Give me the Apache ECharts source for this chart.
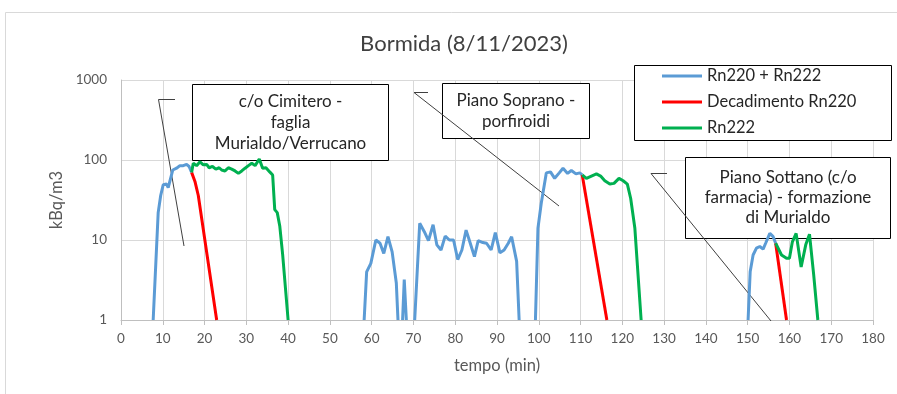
<!DOCTYPE html>
<html>
<head>
<meta charset="utf-8">
<script src="https://cdn.jsdelivr.net/npm/echarts@6/dist/echarts.min.js"></script>
<style>
  html, body { margin: 0; padding: 0; background: #fff; }
  #chart { width: 897px; height: 394px; }
</style>
</head>
<body>
<div id="chart"></div>
<script>
// Measurements: [time (min), activity (kBq/m3)]
// Rn220 + Rn222 (total), one array per continuous stretch
const totalA = [[7.7,1],[8.9,22],[9.5,36],[10.1,49],[10.9,50],[11.3,45],[12.4,75],[13.3,79],[14.1,85],[14.9,85],[15.7,88],[16.3,83],[16.9,70]];
const totalB = [[58.2,1],[58.8,4.0],[59.8,5.1],[61.0,10],[62.0,9.1],[62.9,6.8],[63.9,11],[64.9,7.1],[65.9,2.9],[66.3,1]];
const totalC = [[67.4,1],[67.8,3.2],[68.3,1]];
const totalD = [[70.3,1],[71.5,16.2],[72.6,12.7],[73.6,9.8],[74.7,15.5],[75.6,8.7],[76.6,7.5],[77.6,11.2],[78.6,10],[79.6,10],[80.6,5.7],[81.6,7.5],[82.6,13.3],[83.6,9.1],[84.6,6.2],[85.5,9.8],[86.6,9.3],[87.5,9.1],[88.6,7.5],[89.6,12.4],[90.7,6.9],[91.7,7.5],[92.7,9.1],[93.5,11],[94.7,5.4],[95.3,1]];
const totalE = [[99.2,1],[99.8,14],[100.6,29],[101.8,69],[102.8,71],[103.8,59],[104.9,69],[105.8,79],[106.9,68],[107.8,74],[108.9,67],[109.8,69],[110.4,65]];
const totalF = [[150.1,1],[150.6,4.0],[151.3,6.5],[152.1,7.9],[152.9,8.3],[153.7,7.7],[154.3,9.1],[155.3,12.1],[156.1,11],[156.7,9.1]];

// Decadimento Rn220 (decay of thoron after each stop)
const decayA = [[16.9,70],[17.7,54],[18.5,36],[22.9,1]];
const decayB = [[110.4,65],[116.3,1]];
const decayC = [[156.7,9.1],[159.3,1]];

// Rn222
const radonA = [[16.9,70],[17.3,91],[18.1,85],[18.9,95],[19.7,87],[20.5,88],[21.1,80],[21.9,83],[22.7,77],[23.5,80],[24.1,75],[24.9,73],[25.7,80],[26.5,77],[27.3,73],[28.1,68],[28.9,73],[29.7,79],[30.5,85],[31.3,91],[32.1,85],[33.1,103],[33.9,79],[34.7,80],[35.6,71],[36.3,65],[36.8,24],[37.4,22],[38.0,15],[38.7,6.5],[40.0,1]];
const radonB = [[110.4,65],[111.4,59],[112.6,63],[113.8,67],[114.8,63],[115.8,55],[117.0,50],[118.0,51],[119.2,59],[120.2,55],[121.2,50],[122.0,33],[123.0,14],[124.5,1]];
const radonC = [[156.7,9.1],[158.1,6.5],[159.3,5.9],[160.0,5.9],[160.7,9.5],[161.6,12.1],[162.8,4.6],[163.9,8.7],[164.8,11.8],[165.8,3.7],[166.8,1]];

const seriesNames = ['Rn220 + Rn222', 'Decadimento Rn220', 'Rn222'];
const seriesColors = ['#5b9bd5', '#ff0000', '#00b050'];

// Site notes shown in boxes
const noteCimitero = ['c/o Cimitero -', 'faglia', 'Murialdo/Verrucano'];
const noteSoprano = ['Piano Soprano -', 'porfiroidi'];
const noteSottano = ['Piano Sottano (c/o', 'farmacia) - formazione', 'di Murialdo'];

const FONT = 'Lato, "Open Sans", sans-serif';

function segmentSeries(nameIdx, segments) {
  return segments.map(seg => ({
    name: seriesNames[nameIdx],
    type: 'line',
    data: seg,
    showSymbol: false,
    symbol: 'none',
    z: 3 + nameIdx,
    lineStyle: { width: 3, color: seriesColors[nameIdx] },
    itemStyle: { color: seriesColors[nameIdx] },
    clip: true
  }));
}

function noteBox(x, y, w, h, lines, lineGap) {
  const cx = x + w / 2;
  const firstY = y + h / 2 - (lines.length - 1) * lineGap / 2;
  const els = [{
    type: 'rect', z: 1,
    shape: { x: x, y: y, width: w, height: h },
    style: { fill: '#fff', stroke: '#000', lineWidth: 1 }
  }];
  lines.forEach((t, i) => els.push({
    type: 'text', z: 1,
    x: cx, y: firstY + i * lineGap,
    style: { text: t, fill: '#262626', font: '17px ' + FONT, textAlign: 'center', textVerticalAlign: 'middle' }
  }));
  return els;
}

function leader(points) {
  return { type: 'polyline', z: 1, shape: { points: points }, style: { stroke: '#404040', lineWidth: 1, fill: null } };
}

const chart = echarts.init(document.getElementById('chart'), null, { renderer: 'canvas' });

chart.setOption({
  animation: false,
  backgroundColor: '#fff',
  textStyle: { fontFamily: FONT },
  title: {
    text: 'Bormida (8/11/2023)',
    left: 459, top: 28, textAlign: 'center',
    textStyle: { fontFamily: FONT, fontSize: 22, fontWeight: 'normal', color: '#404040' }
  },
  grid: { left: 121, right: 24, top: 80, bottom: 74 },
  legend: {
    data: seriesNames,
    orient: 'vertical',
    left: 662, top: 67,
    icon: 'rect',
    itemWidth: 40, itemHeight: 3,
    itemGap: 8,
    padding: 0,
    textStyle: { fontFamily: FONT, fontSize: 16.5, color: '#262626', lineHeight: 18 },
    selectedMode: false
  },
  xAxis: {
    type: 'value', min: 0, max: 180, interval: 10,
    name: 'tempo (min)', nameLocation: 'middle', nameGap: 37,
    nameTextStyle: { fontFamily: FONT, fontSize: 16.5, color: '#595959' },
    axisLine: { show: true, lineStyle: { color: '#bfbfbf' } },
    axisTick: { show: true, length: 5, lineStyle: { color: '#bfbfbf' } },
    axisLabel: { fontFamily: FONT, fontSize: 13.5, color: '#595959', margin: 12 },
    splitLine: { show: true, lineStyle: { color: '#d9d9d9' } }
  },
  yAxis: {
    type: 'log', logBase: 10, min: 1, max: 1000,
    name: 'kBq/m3', nameLocation: 'middle', nameGap: 54,
    nameTextStyle: { fontFamily: FONT, fontSize: 16.5, color: '#595959' },
    axisLine: { show: true, lineStyle: { color: '#bfbfbf' } },
    axisTick: { show: false },
    axisLabel: { fontFamily: FONT, fontSize: 13.5, color: '#595959', margin: 14, formatter: v => String(Math.round(v)) },
    splitLine: { show: true, lineStyle: { color: '#d9d9d9' } }
  },
  graphic: [
    { type: 'rect', z: 0, shape: { x: 5.5, y: 12.5, width: 920, height: 420 }, style: { fill: null, stroke: '#d9d9d9', lineWidth: 1 } },
    { type: 'rect', z: 1, shape: { x: 634.5, y: 65.5, width: 257, height: 75 }, style: { fill: '#fff', stroke: '#000', lineWidth: 1 } },
    ...noteBox(192.5, 84.5, 196, 76, noteCimitero, 21),
    ...noteBox(442.5, 83.5, 147, 55, noteSoprano, 21),
    ...noteBox(685.5, 157.5, 205, 81, noteSottano, 20),
    leader([[175, 99.5], [158.5, 99.5], [184, 246]]),
    leader([[428, 92.5], [414, 92.5], [559, 206]]),
    leader([[667, 173.5], [651, 173.5], [771, 321]])
  ],
  series: [
    ...segmentSeries(0, [totalA, totalB, totalC, totalD, totalE, totalF]),
    ...segmentSeries(1, [decayA, decayB, decayC]),
    ...segmentSeries(2, [radonA, radonB, radonC])
  ]
});
</script>
</body>
</html>
